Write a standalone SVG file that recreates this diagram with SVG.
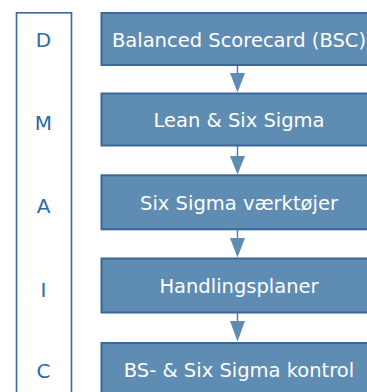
<svg xmlns="http://www.w3.org/2000/svg" width="367" height="392" viewBox="0 0 367 392">
<style>
.box{fill:#5E8CB3;stroke:#3A6797;stroke-width:2}
.bt{font-family:"DejaVu Sans",Verdana,sans-serif;font-size:19.5px;fill:#FFFFFF;text-anchor:middle}
.lt{font-family:"DejaVu Sans",Verdana,sans-serif;font-size:20px;fill:#2C6AA5;text-anchor:middle}
.panel{fill:#FFFFFF;stroke:#3A6797;stroke-width:1.6}
.ln{stroke:#4F7FAA;stroke-width:1.5;fill:none}
.ah{fill:#5E8CB3}
</style>
<g id="dmaic">
<rect class="panel" x="16.5" y="12.8" width="55" height="400"/>
<text class="lt" x="43.5" y="47.3">D</text>
<text class="lt" x="43.5" y="130">M</text>
<text class="lt" x="43.5" y="213.3">A</text>
<text class="lt" x="43.5" y="296.7">I</text>
<text class="lt" x="43.5" y="377.7">C</text>
</g>
<g id="connectors">
<line class="ln" x1="237.5" y1="66" x2="237.5" y2="74"/>
<polygon class="ah" points="230,73 245,73 237.5,92.5"/>
<line class="ln" x1="237.5" y1="146" x2="237.5" y2="157"/>
<polygon class="ah" points="230,156 245,156 237.5,174.5"/>
<line class="ln" x1="237.5" y1="230" x2="237.5" y2="239"/>
<polygon class="ah" points="230,238 245,238 237.5,257.5"/>
<line class="ln" x1="237.5" y1="313" x2="237.5" y2="322"/>
<polygon class="ah" points="230,321 245,321 237.5,341.5"/>
</g>
<g id="node1">
<rect class="box" x="101.5" y="13" width="276" height="52"/>
<text class="bt" x="239" y="46.7">Balanced Scorecard (BSC)</text>
</g>
<g id="node2">
<rect class="box" x="101.5" y="93.5" width="276" height="52"/>
<text class="bt" x="239" y="127.3">Lean &amp; Six Sigma</text>
</g>
<g id="node3">
<rect class="box" x="101.5" y="175.3" width="276" height="54"/>
<text class="bt" x="239" y="210">Six Sigma værktøjer</text>
</g>
<g id="node4">
<rect class="box" x="101.5" y="258.5" width="276" height="54"/>
<text class="bt" x="239" y="293.3">Handlingsplaner</text>
</g>
<g id="node5">
<rect class="box" x="101.5" y="343" width="276" height="60"/>
<text class="bt" x="239" y="377.3">BS- &amp; Six Sigma kontrol</text>
</g>
</svg>
